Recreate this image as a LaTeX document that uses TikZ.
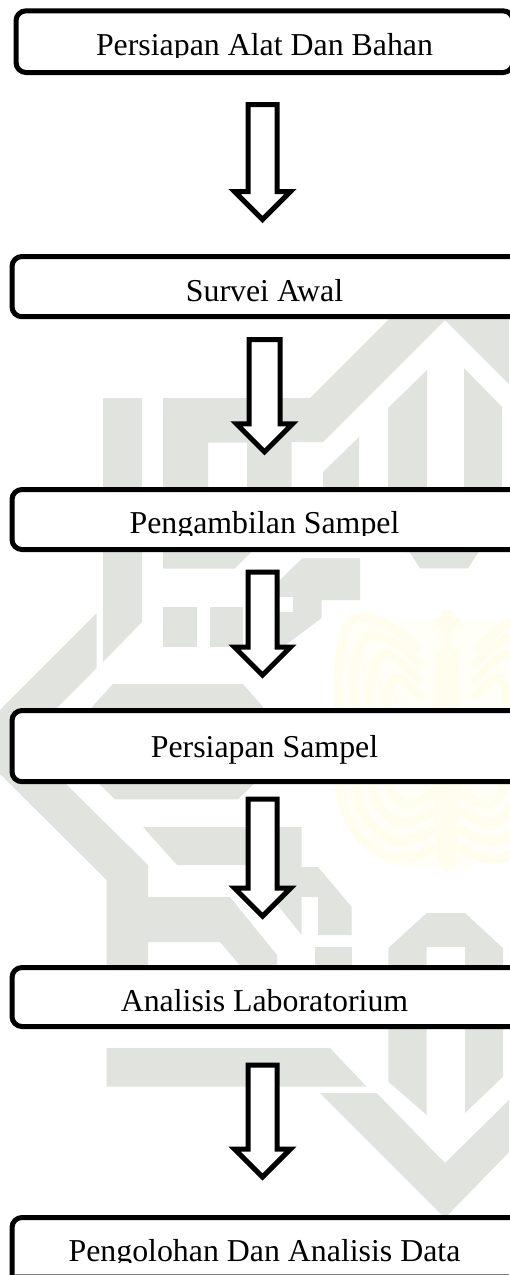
\documentclass[tikz,border=0pt]{standalone}
\usepackage{fontspec}
\setmainfont{Liberation Serif}
\usetikzlibrary{calc}
\definecolor{wmgray}{HTML}{E1E4DE}
\definecolor{wmyellow}{HTML}{FFFEEE}
\definecolor{wmpale}{HTML}{FFFFF8}
\tikzset{
  flowbox/.style={draw=black,fill=white,line width=5pt,rounded corners=10pt,rectangle,inner sep=0pt,outer sep=0pt},
  flowtext/.style={anchor=base,inner sep=0pt,outer sep=0pt,font=\fontsize{31.85}{36}\selectfont},
  hollowarrow/.style={draw=black,fill=white,line width=5pt,miter limit=10,line join=miter},
  band/.style={draw=wmyellow,line width=9pt,fill=none,line cap=round},
}
\newcommand{\hollow}[3]{% start, tip, half shaft width
  \path[hollowarrow] let \p1=(#1), \p2=(#2) in
    (\x1-#3pt,\y1) -- (\x1+#3pt,\y1) -- (\x1+#3pt,\y2+28pt) -- (\x1+28pt,\y2+28pt)
    -- (\x2,\y2) -- (\x1-28pt,\y2+28pt) -- (\x1-#3pt,\y2+28pt) -- cycle;
}
\newcommand{\flowstep}[8]{% name, left, top, right, bottom, baseline, clip bottom, text
  \node[flowbox,minimum width={#4pt-#2pt},minimum height={#5pt-#3pt}] (#1) at ({(#2+#4)/2},{(#3+#5)/2}) {};
  \begin{scope}
    \clip (0,#3) rectangle (509,#7);
    \node[flowtext] (#1t) at (264.5,#6) {#8};
  \end{scope}
}
\begin{document}
\begin{tikzpicture}[x=1pt,y=-1pt]
\useasboundingbox (0,0) rectangle (509,1275);
\fill[white] (0,0) rectangle (509,1275);
% watermark: grey
\fill[wmgray] (163,398) -- (310,398) -- (400,308) -- (490,308) -- (445,320) -- (323,442) -- (291.7,442) -- (291.7,492) -- (247,492) -- (247,442.7) -- (208,442.7) -- (208,492) -- (163,492) -- cycle;
\fill[wmgray] (445,320) -- (509,384) -- (509,310) -- (445,310) -- cycle;
\fill[wmgray] (388,408) -- (427,370) -- (427,552) -- (420,552) -- (405,552) -- (388,540) -- cycle;
\fill[wmgray] (464,368) -- (502,407) -- (502,530) -- (464,552) -- cycle;
\fill[wmgray] (323,472) -- (359,437) -- (359,492) -- (323,492) -- cycle;
\fill[wmgray] (103,398) -- (142,398) -- (142,622) -- (103,662) -- cycle;
\fill[wmgray] (163,540) -- (263,540) -- (235,568.5) -- (163,568.5) -- cycle;
\fill[wmgray] (405,545) -- (420,568.3) -- (468,568.3) -- (483,545) -- cycle;
\fill[wmgray] (302,558.3) -- (360,558.3) -- (360,600) -- (321.7,600) -- (321.7,618) -- (279,650) -- (262,650) -- (262,598) -- cycle;
\fill[white] (279,597) rectangle (292.7,612);
\fill[wmgray] (163,607) rectangle (197,647);
\fill[wmgray] (210,607) rectangle (243,647);
\fill[wmgray] (96.7,613) -- (0,710) -- (0,774) -- (106.7,880) -- (106.7,970) -- (148,970) -- (148,942) -- (220,942) -- (244,970) -- (277,970) -- (277,955) -- (230,897) -- (148,897) -- (148,865) -- (67,785) -- (57,708) -- (96.7,668) -- cycle;
\fill[wmgray] (113,684) -- (243,684) -- (263,707) -- (263,730) -- (92,730) -- (92,707) -- cycle;
\fill[wmgray] (90,775) -- (263,775) -- (238,799.3) -- (115,799.3) -- cycle;
\fill[wmgray] (143,827) -- (301.7,827) -- (301.7,867) -- (318,867) -- (351.7,907) -- (351.7,935) -- (318,935) -- (318,897) -- (301.7,897) -- (301.7,935) -- (245,865) -- (177,865) -- cycle;
\fill[wmgray] (315,947) rectangle (351.7,970);
\fill[wmgray] (388.3,948) -- (426.7,913) -- (465,913) -- (503,948) -- (503,1076.7) -- (465,1113) -- (465,947) -- (426.7,947) -- (426.7,1115) -- (388.3,1081.7) -- cycle;
\fill[wmgray] (106.7,1048) -- (330,1048) -- (366.7,1086.7) -- (106.7,1086.7) -- cycle;
\fill[wmgray] (320,1093) -- (376.7,1093) -- (445,1163) -- (509,1100) -- (509,1152) -- (445,1218) -- cycle;
% watermark: yellow logo
\fill[wmpale] (340,620) rectangle (509,715);
\fill[wmpale] (340,775) -- (509,775) -- (509,845) -- (460,872) -- (390,865) -- (345,825) -- cycle;
\foreach \s in {1,-1}{
\begin{scope}[shift={(447,0)},xscale=\s]
  \draw[band] (-30,648) .. controls (-50,628) and (-75,612) .. (-92,618) .. controls (-108,628) and (-110,670) .. (-108,715);
  \draw[band] (-28,664) .. controls (-45,645) and (-65,632) .. (-78,636) .. controls (-92,645) and (-94,680) .. (-92,715);
  \draw[band] (-28,680) .. controls (-42,664) and (-55,652) .. (-64,655) .. controls (-76,664) and (-78,690) .. (-76,715);
  \draw[band] (-28,696) .. controls (-38,684) and (-46,676) .. (-52,678) .. controls (-60,685) and (-61,700) .. (-60,715);
  \draw[band] (-108,778) .. controls (-106,815) and (-90,848) .. (-55,858) .. controls (-40,861) and (-25,855) .. (-15,848);
  \draw[band] (-92,778) .. controls (-90,808) and (-78,830) .. (-55,840) .. controls (-40,843) and (-28,838) .. (-15,830);
  \draw[band] (-76,778) .. controls (-74,800) and (-65,814) .. (-50,822) .. controls (-40,824) and (-30,820) .. (-15,812);
  \draw[band] (-60,778) .. controls (-58,790) and (-52,800) .. (-42,804) .. controls (-35,805) and (-25,800) .. (-15,794);
\end{scope}}
\fill[wmyellow] (436,650) -- (458,650) -- (462,720) -- (462,780) -- (456,860) -- (447,874) -- (438,860) -- (432,780) -- (432,720) -- cycle;
\fill[wmyellow] (441,610) rectangle (453,650);
\fill[wmyellow] (434,618) rectangle (460,628);
% flow
\flowstep{b1}{16}{10.8}{513}{72.5}{55}{57.3}{Persiapan Alat Dan Bahan}
\flowstep{b2}{12}{256.5}{540}{316.7}{301}{311}{Survei Awal}
\flowstep{b3}{12}{489.5}{540}{549.5}{533.3}{535}{Pengambilan Sampel}
\flowstep{b4}{12}{710.5}{540}{781.7}{757.7}{764.5}{Persiapan Sampel}
\flowstep{b5}{12}{967.5}{540}{1026.5}{1011.7}{1020}{Analisis Laboratorium}
\flowstep{b6}{12}{1217.5}{540}{1295}{1261.7}{1262.7}{Pengolohan Dan Analisis Data}
\coordinate (a1s) at (262.5,104.5); \coordinate (a1e) at (262.5,219.5);
\coordinate (a2s) at (264.5,339.5); \coordinate (a2e) at (264.5,451.8);
\coordinate (a3s) at (262.5,572.2); \coordinate (a3e) at (262.5,675.2);
\coordinate (a4s) at (262.5,799);   \coordinate (a4e) at (262.5,916.2);
\coordinate (a5s) at (262.5,1065);  \coordinate (a5e) at (262.5,1177);
\hollow{a1s}{a1e}{14.5}
\hollow{a2s}{a2e}{15.5}
\hollow{a3s}{a3e}{14.5}
\hollow{a4s}{a4e}{14.5}
\hollow{a5s}{a5e}{14.5}
\coordinate (bl) at (15,1274.3); \coordinate (br) at (509,1274.3);
\draw[gray,line width=1pt] (bl) -- (br);
\end{tikzpicture}
\end{document}
